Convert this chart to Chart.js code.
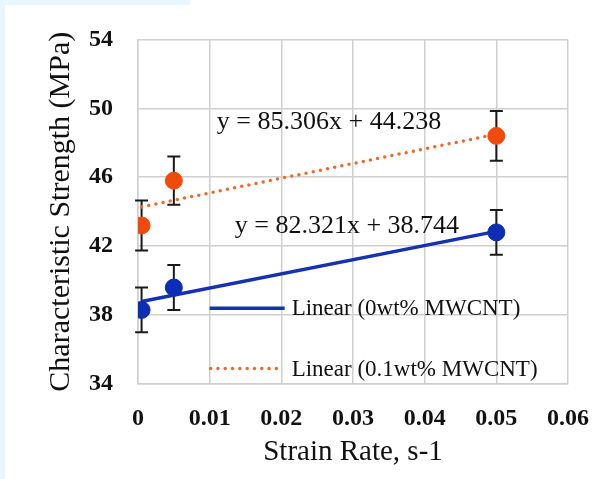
<!DOCTYPE html>
<html>
<head>
<meta charset="utf-8">
<script src="https://cdn.jsdelivr.net/npm/chart.js@4/dist/chart.umd.min.js"></script>
<style>
  html, body { margin: 0; padding: 0; background: #fff; }
  #wrap { position: relative; width: 609px; height: 479px; overflow: hidden; }
  .band { position: absolute; background: #e6f7fd; }
  canvas { position: absolute; left: 0; top: 0; }
</style>
</head>
<body>
<div id="wrap">
  <div class="band" style="left:0;top:0;width:190px;height:5px"></div>
  <div class="band" style="left:0;top:0;width:5px;height:479px"></div>
  <canvas id="c" width="609" height="479"></canvas>
</div>
<script>
/* Karakteristik dayanım – şekil okuması */
const strainRates = [0.0005, 0.005, 0.05];

const strength0 = [38.3, 39.6, 42.8];     // 0wt% MWCNT
const error0 = [1.3, 1.3, 1.3];
const strength01 = [43.2, 45.8, 48.4];    // 0.1wt% MWCNT
const error01 = [1.45, 1.4, 1.45];

// trend çizgisi uç noktaları
const trendX = [0.0005, 0.05];
const trend0 = [38.79, 42.86];
const trend01 = [44.28, 48.5];

const xTicks = ["0", "0.01", "0.02", "0.03", "0.04", "0.05", "0.06"];
const yTicks = [34, 38, 42, 46, 50, 54];

const eq0 = "y = 82.321x + 38.744";
const eq01 = "y = 85.306x + 44.238";
const legend0 = "Linear (0wt% MWCNT)";
const legend01 = "Linear (0.1wt% MWCNT)";

const BLUE = "#0d2db4";
const BLUE_LINE = "#1632b0";
const ORANGE = "#f04b0c";
const ORANGE_DOT = "#ef6a2a";
const GRID = "#cfcfcf";
const INK = "#111";
const SERIF = '"Liberation Serif", "Times New Roman", serif';

const pts = (xs, ys) => xs.map((x, i) => ({ x, y: ys[i] }));

/** Hata çubukları – noktaların altında kalsın */
const errorBars = {
  id: "errorBars",
  beforeDatasetsDraw(chart) {
    const { ctx, scales: { x, y } } = chart;
    ctx.save();
    ctx.strokeStyle = "#1a1a1a";
    ctx.lineWidth = 2;
    const bar = (means, errs) => means.forEach((m, i) => {
      const px = x.getPixelForValue(strainRates[i]);
      const top = y.getPixelForValue(m + errs[i]);
      const bot = y.getPixelForValue(m - errs[i]);
      ctx.beginPath();
      ctx.moveTo(px, top); ctx.lineTo(px, bot);
      ctx.moveTo(px - 6.5, top); ctx.lineTo(px + 6.5, top);
      ctx.moveTo(px - 6.5, bot); ctx.lineTo(px + 6.5, bot);
      ctx.stroke();
    });
    bar(strength0, error0);
    bar(strength01, error01);
    ctx.restore();
  },
};

/** Excel tarzı denklem etiketleri ve grafik içi lejant */
const labels = {
  id: "labels",
  afterDatasetsDraw(chart) {
    const { ctx, scales: { x, y } } = chart;
    ctx.save();
    ctx.fillStyle = INK;
    ctx.textBaseline = "middle";
    ctx.textAlign = "left";
    ctx.font = "26px " + SERIF;
    ctx.fillText(eq01, x.getPixelForValue(0.011), y.getPixelForValue(49.17));
    ctx.fillText(eq0, x.getPixelForValue(0.0135), y.getPixelForValue(43.14));

    const lx0 = x.getPixelForValue(0.01);
    const ly0 = y.getPixelForValue(38.4);
    const ly1 = y.getPixelForValue(34.9);
    ctx.strokeStyle = BLUE_LINE;
    ctx.lineWidth = 3.5;
    ctx.beginPath(); ctx.moveTo(lx0, ly0); ctx.lineTo(lx0 + 75, ly0); ctx.stroke();
    ctx.strokeStyle = ORANGE_DOT;
    ctx.lineCap = "round";
    ctx.setLineDash([0, 7.3]);
    ctx.beginPath(); ctx.moveTo(lx0 + 1, ly1); ctx.lineTo(lx0 + 72, ly1); ctx.stroke();
    ctx.setLineDash([]);
    ctx.font = "23px " + SERIF;
    ctx.fillText(legend0, lx0 + 82, ly0 + 1);
    ctx.fillText(legend01, lx0 + 82, ly1 + 1);
    ctx.restore();
  },
};

new Chart(document.getElementById("c"), {
  type: "scatter",
  data: {
    datasets: [
      {
        type: "line",
        data: pts(trendX, trend01),
        borderColor: ORANGE_DOT,
        borderWidth: 3.5,
        borderDash: [0, 7.3],
        borderCapStyle: "round",
        pointRadius: 0,
        order: 3,
      },
      {
        type: "line",
        data: pts(trendX, trend0),
        borderColor: BLUE_LINE,
        borderWidth: 3.5,
        pointRadius: 0,
        order: 3,
      },
      {
        data: pts(strainRates, strength01),
        backgroundColor: ORANGE,
        borderColor: ORANGE,
        pointRadius: 8.5,
        order: 1,
      },
      {
        data: pts(strainRates, strength0),
        backgroundColor: BLUE,
        borderColor: BLUE,
        pointRadius: 8.5,
        order: 1,
      },
    ],
  },
  options: {
    responsive: false,
    animation: false,
    layout: { padding: { left: 0, top: 36, right: 39, bottom: 0 } },
    plugins: { legend: { display: false }, tooltip: { enabled: false } },
    scales: {
      x: {
        type: "linear",
        min: 0,
        max: 0.06,
        afterFit: (s) => { s.height = 95; },
        afterBuildTicks: (s) => { s.ticks = xTicks.map((t) => ({ value: Number(t) })); },
        ticks: {
          padding: 20,
          color: INK,
          font: { family: SERIF, size: 24, weight: "bold" },
          callback: (v, i) => xTicks[i],
        },
        grid: { color: GRID, lineWidth: 1.5, drawTicks: false },
        border: { color: GRID, width: 1.5 },
        title: {
          display: true,
          text: "Strain Rate, s-1",
          color: INK,
          font: { family: SERIF, size: 29 },
          padding: { top: 0, bottom: 9 },
        },
      },
      y: {
        min: 34,
        max: 54,
        afterFit: (s) => { s.width = 138; },
        afterBuildTicks: (s) => { s.ticks = yTicks.map((v) => ({ value: v })); },
        ticks: {
          padding: 25,
          color: INK,
          font: { family: SERIF, size: 24, weight: "bold" },
        },
        grid: { color: GRID, lineWidth: 1.5, drawTicks: false },
        border: { color: GRID, width: 1.5 },
        title: {
          display: true,
          text: "Characteristic Strength (MPa)",
          color: INK,
          font: { family: SERIF, size: 30 },
          padding: { top: 43, bottom: 0 },
        },
      },
    },
  },
  plugins: [errorBars, labels],
});
</script>
</body>
</html>
